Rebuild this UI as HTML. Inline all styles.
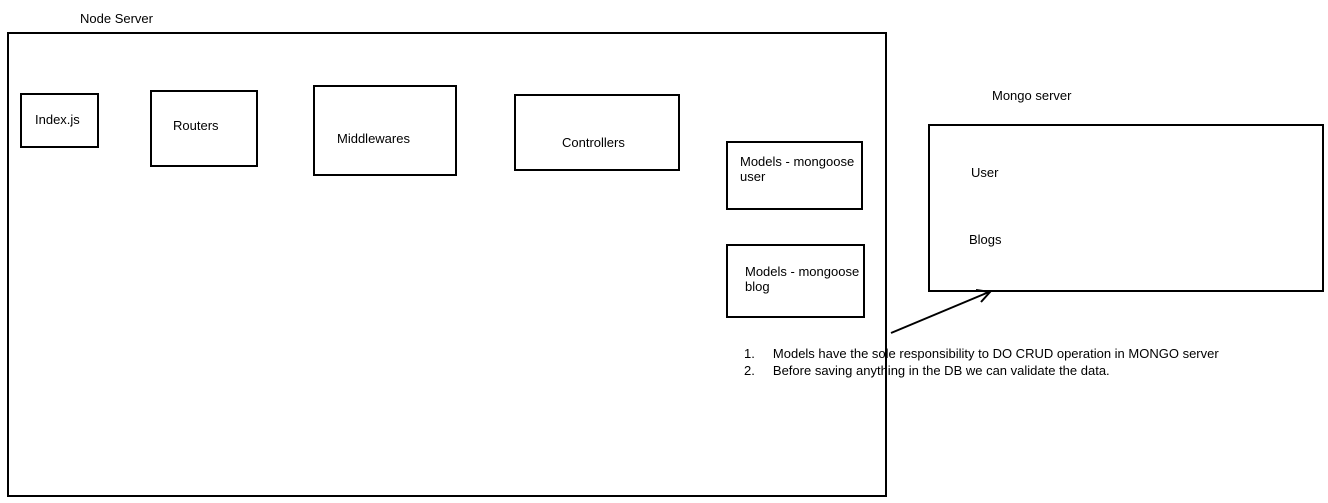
<!DOCTYPE html>
<html><head><style>
body{margin:0;width:1328px;height:503px;background:#fff;position:relative;overflow:hidden;font-family:"Liberation Sans",sans-serif;font-size:13px;color:#000}
.b{position:absolute;border:2px solid #000;box-sizing:border-box}
.t{position:absolute;white-space:nowrap;line-height:15px}
</style></head><body>
<div class="t" style="left:80px;top:11px">Node Server</div>
<div class="b" style="left:7px;top:32px;width:880px;height:465px"></div>
<div class="b" style="left:20px;top:93px;width:79px;height:55px"></div>
<div class="t" style="left:35px;top:112px">Index.js</div>
<div class="b" style="left:150px;top:90px;width:108px;height:77px"></div>
<div class="t" style="left:173px;top:118px">Routers</div>
<div class="b" style="left:313px;top:85px;width:144px;height:91px"></div>
<div class="t" style="left:337px;top:131px">Middlewares</div>
<div class="b" style="left:514px;top:94px;width:166px;height:77px"></div>
<div class="t" style="left:562px;top:135px">Controllers</div>
<div class="b" style="left:726px;top:141px;width:137px;height:69px"></div>
<div class="t" style="left:740px;top:154px">Models - mongoose<br>user</div>
<div class="b" style="left:726px;top:244px;width:139px;height:74px"></div>
<div class="t" style="left:745px;top:264px">Models - mongoose<br>blog</div>
<div class="t" style="left:992px;top:88px">Mongo server</div>
<div class="b" style="left:928px;top:124px;width:396px;height:168px"></div>
<div class="t" style="left:971px;top:165px">User</div>
<div class="t" style="left:969px;top:232px">Blogs</div>
<svg style="position:absolute;left:0;top:0" width="1328" height="503">
<line x1="891" y1="333" x2="989" y2="292" stroke="#000" stroke-width="2"/>
<polyline points="976,290 990,292 981,302" fill="none" stroke="#000" stroke-width="2"/>
</svg>
<div class="t" style="left:744px;top:346px">1.&nbsp;&nbsp;&nbsp;&nbsp;&nbsp;Models have the sole responsibility to DO CRUD operation in MONGO server</div>
<div class="t" style="left:744px;top:363px">2.&nbsp;&nbsp;&nbsp;&nbsp;&nbsp;Before saving anything in the DB we can validate the data.</div>
</body></html>
